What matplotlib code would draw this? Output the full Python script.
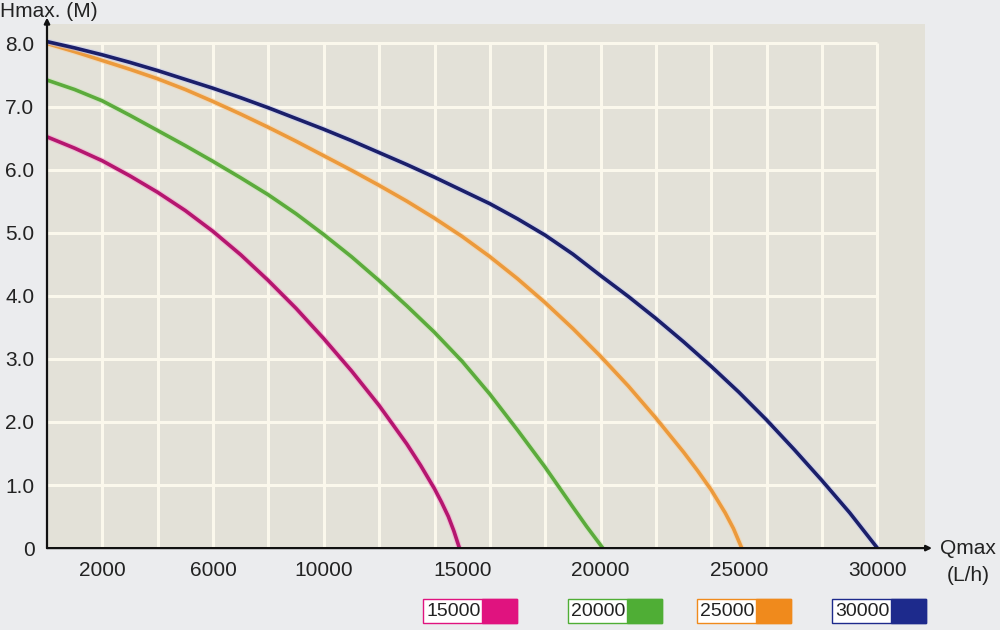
import matplotlib
matplotlib.use('Agg')
import matplotlib.pyplot as plt
import matplotlib.patheffects as pe
from matplotlib.patches import Rectangle

plt.rcParams['font.family'] = ['Liberation Sans', 'DejaVu Sans']

# pump curves: flow (L/h) vs head (m)
q_15000 = [0, 1000, 2000, 3000, 4000, 5000, 6000, 7000, 8000, 9000, 10000, 11000, 12000,
           13000, 13500, 14000, 14250, 14500, 14700, 14900]
h_15000 = [6.52, 6.34, 6.14, 5.90, 5.64, 5.35, 5.02, 4.65, 4.24, 3.80, 3.32, 2.81, 2.26,
           1.65, 1.31, 0.94, 0.73, 0.50, 0.27, 0.0]

q_20000 = [0, 1000, 2000, 3000, 4000, 5000, 6000, 7000, 8000, 9000, 10000, 11000, 12000,
           13000, 14000, 15000, 16000, 17000, 18000, 19000, 19500, 20080]
h_20000 = [7.42, 7.27, 7.09, 6.86, 6.62, 6.38, 6.13, 5.87, 5.60, 5.30, 4.97, 4.62, 4.24,
           3.84, 3.42, 2.96, 2.44, 1.87, 1.28, 0.65, 0.34, 0.0]

q_25000 = [0, 1000, 2000, 3000, 4000, 5000, 6000, 7000, 8000, 9000, 10000, 11000, 12000,
           13000, 14000, 15000, 16000, 17000, 18000, 19000, 20000, 21000, 22000, 23000,
           23500, 24000, 24500, 24800, 25100]
h_25000 = [8.0, 7.87, 7.73, 7.59, 7.44, 7.27, 7.08, 6.88, 6.67, 6.45, 6.22, 5.99, 5.75,
           5.50, 5.23, 4.94, 4.62, 4.27, 3.89, 3.48, 3.04, 2.57, 2.06, 1.52,
           1.23, 0.92, 0.56, 0.31, 0.0]

q_30000 = [0, 1000, 2000, 3000, 4000, 5000, 6000, 7000, 8000, 9000, 10000, 11000, 12000,
           13000, 14000, 15000, 16000, 17000, 18000, 19000, 20000, 21000, 22000, 23000,
           24000, 25000, 26000, 27000, 28000, 29000, 30000]
h_30000 = [8.03, 7.93, 7.82, 7.70, 7.57, 7.43, 7.29, 7.14, 6.98, 6.81, 6.64, 6.46, 6.27,
           6.08, 5.88, 5.67, 5.46, 5.22, 4.96, 4.66, 4.32, 3.99, 3.64, 3.27,
           2.88, 2.47, 2.03, 1.56, 1.07, 0.56, 0.0]

models = ['15000', '20000', '25000', '30000']
line_colors = ['#b5166f', '#5cab3c', '#ec9a3c', '#1b1f6a']
halo_colors = ['#f3a6cf', '#c9e6b8', '#f7d2a6', '#c3c8ee']
legend_colors = ['#e0137f', '#4fae35', '#f08a1c', '#1d2a8c']

y_ticks = [0, 1, 2, 3, 4, 5, 6, 7, 8]
y_labels = ['0', '1.0', '2.0', '3.0', '4.0', '5.0', '6.0', '7.0', '8.0']
x_ticks = [2000, 6000, 10000, 15000, 20000, 25000, 30000]
grid_x = list(range(2000, 30001, 2000))

fig = plt.figure(figsize=(10, 6.3), dpi=100)
fig.patch.set_facecolor('#ebecee')
ax = fig.add_axes([0.047, 0.130, 0.878, 0.832])
ax.set_facecolor('#e3e1d8')

ax.vlines(grid_x, 0, 8, colors='#fbf8ec', lw=2.2, zorder=1)
ax.hlines(y_ticks[1:], 0, 30000, colors='#fbf8ec', lw=2.2, zorder=1)

curves = [(q_15000, h_15000), (q_20000, h_20000), (q_25000, h_25000), (q_30000, h_30000)]
for (q, h), c, hc in zip(curves, line_colors, halo_colors):
    ax.plot(q, h, color=c, lw=2.6, solid_capstyle='butt', solid_joinstyle='round', zorder=3,
            path_effects=[pe.Stroke(linewidth=4.2, foreground=hc, alpha=0.6), pe.Normal()])

ax.set_xlim(0, 31720)
ax.set_ylim(0, 8.31)
for s in ax.spines.values():
    s.set_visible(False)
ax.set_xticks(x_ticks)
ax.set_xticklabels([str(t) for t in x_ticks])
ax.set_yticks(y_ticks)
ax.set_yticklabels(y_labels)
ax.tick_params(length=0, labelsize=15, colors='#222222')
ax.tick_params(axis='x', pad=9)
ax.tick_params(axis='y', pad=9)

# axis arrows
ax.annotate('', xy=(0, 1.012), xytext=(0, 0), xycoords='axes fraction',
            arrowprops=dict(arrowstyle='-|>', lw=1.6, color='#111111',
                            mutation_scale=8, shrinkA=0, shrinkB=0))
ax.annotate('', xy=(1.008, 0), xytext=(0, 0), xycoords='axes fraction',
            arrowprops=dict(arrowstyle='-|>', lw=1.6, color='#111111',
                            mutation_scale=8, shrinkA=0, shrinkB=0))

fig.text(0.0, 0.981, 'Hmax. (M)', fontsize=15, color='#222222', va='center', ha='left')
fig.text(0.968, 0.130, 'Qmax', fontsize=15, color='#222222', va='center', ha='center')
fig.text(0.968, 0.087, '(L/h)', fontsize=15, color='#222222', va='center', ha='center')

# legend boxes along the bottom
box_left = [0.423, 0.568, 0.697, 0.832]
for x0, m, lc in zip(box_left, models, legend_colors):
    fig.add_artist(Rectangle((x0, 0.011), 0.094, 0.038, transform=fig.transFigure,
                             facecolor='white', edgecolor=lc, lw=1.0))
    fig.add_artist(Rectangle((x0 + 0.059, 0.011), 0.035, 0.038, transform=fig.transFigure,
                             facecolor=lc, edgecolor=lc, lw=1.0))
    fig.text(x0 + 0.003, 0.030, m, fontsize=14, color='#222222', va='center', ha='left')

fig.savefig('out.png', dpi=100, facecolor=fig.get_facecolor())
